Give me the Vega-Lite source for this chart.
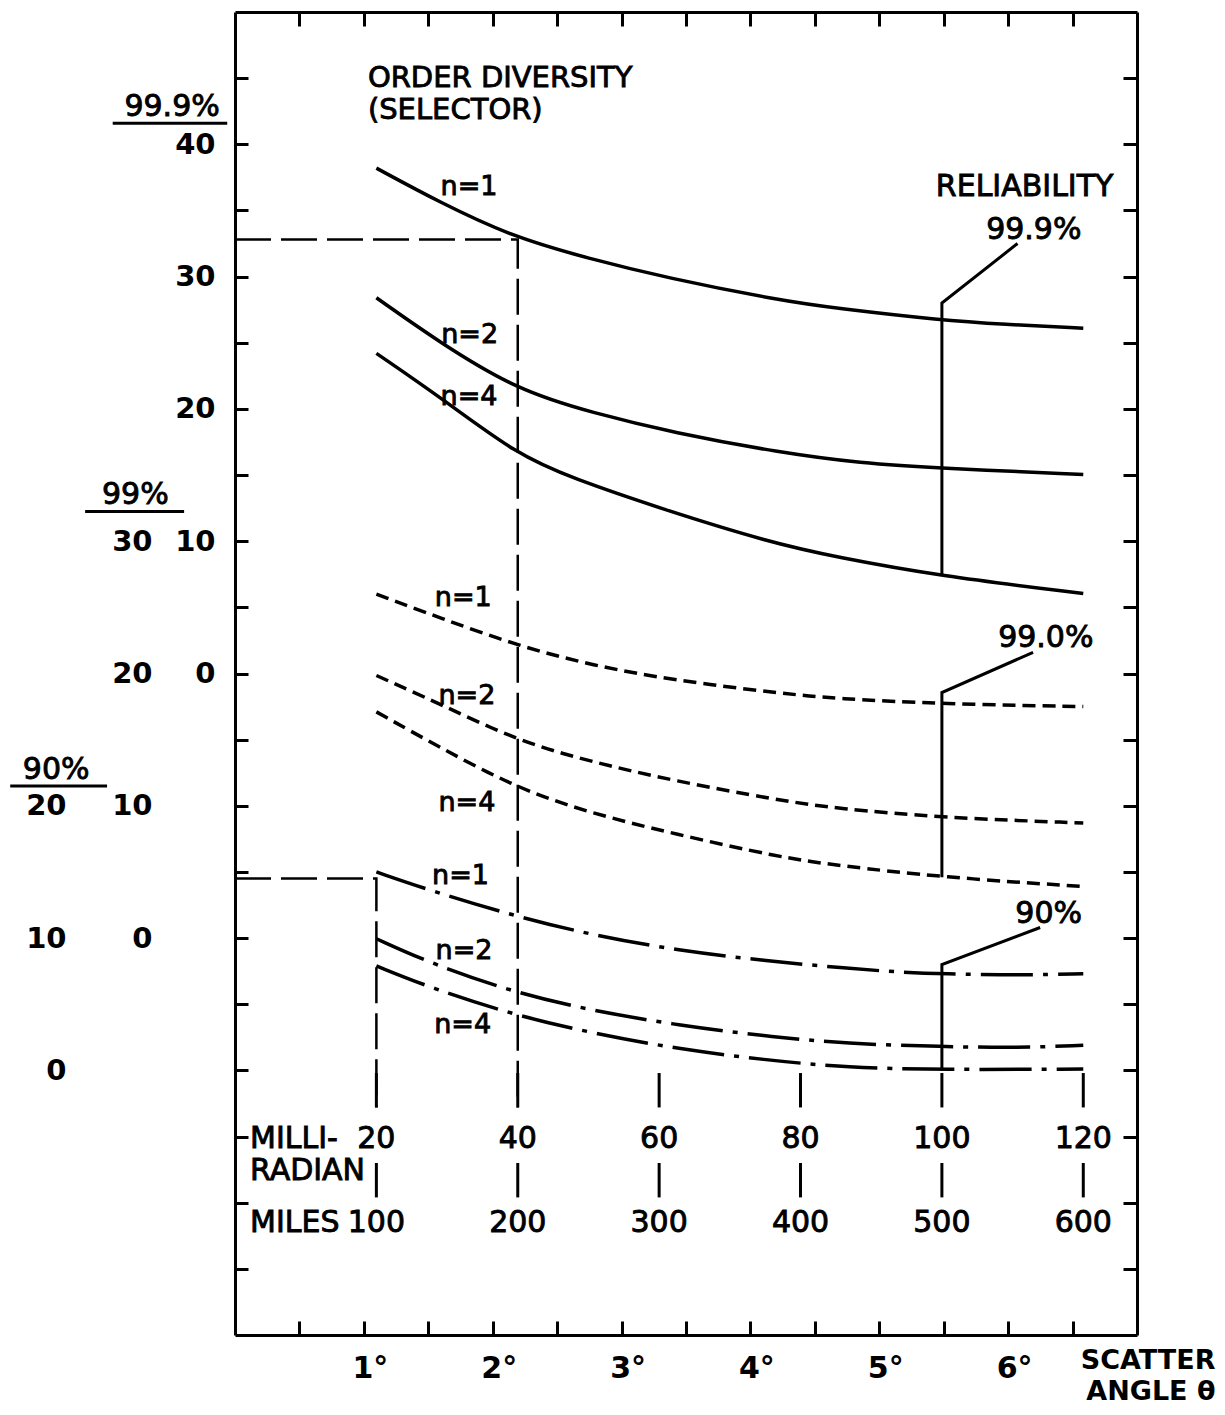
{
  "$schema": "https://vega.github.io/schema/vega-lite/v6.json",
  "width": 902,
  "height": 1323,
  "autosize": {"type": "none"},
  "padding": {"left": 235, "top": 12, "right": 88, "bottom": 80},
  "background": "white",
  "config": {
    "view": {"stroke": null},
    "font": "DejaVu Sans",
    "axis": {"labelFont": "DejaVu Sans", "titleFont": "DejaVu Sans", "labelColor": "black", "titleColor": "black", "domainColor": "black", "tickColor": "black", "grid": false, "labelFontWeight": "bold"},
    "text": {"color": "black", "stroke": "black", "strokeWidth": 0.9, "align": "center", "baseline": "middle"}
  },
  "datasets": {
    "curves": [
      {"reliability": "99.9%", "n": 1, "mrad": 20, "value": 38.2},
      {"reliability": "99.9%", "n": 1, "mrad": 29, "value": 35.6},
      {"reliability": "99.9%", "n": 1, "mrad": 39.3, "value": 33.0},
      {"reliability": "99.9%", "n": 1, "mrad": 49.8, "value": 31.4},
      {"reliability": "99.9%", "n": 1, "mrad": 61.1, "value": 29.9},
      {"reliability": "99.9%", "n": 1, "mrad": 77.1, "value": 28.2},
      {"reliability": "99.9%", "n": 1, "mrad": 85.1, "value": 27.6},
      {"reliability": "99.9%", "n": 1, "mrad": 100, "value": 26.7},
      {"reliability": "99.9%", "n": 1, "mrad": 108.6, "value": 26.4},
      {"reliability": "99.9%", "n": 1, "mrad": 120, "value": 26.1},
      {"reliability": "99.9%", "n": 2, "mrad": 20, "value": 28.4},
      {"reliability": "99.9%", "n": 2, "mrad": 29, "value": 25.0},
      {"reliability": "99.9%", "n": 2, "mrad": 40, "value": 21.4},
      {"reliability": "99.9%", "n": 2, "mrad": 50.6, "value": 19.7},
      {"reliability": "99.9%", "n": 2, "mrad": 62, "value": 18.2},
      {"reliability": "99.9%", "n": 2, "mrad": 77.1, "value": 16.7},
      {"reliability": "99.9%", "n": 2, "mrad": 88.4, "value": 15.9},
      {"reliability": "99.9%", "n": 2, "mrad": 100, "value": 15.5},
      {"reliability": "99.9%", "n": 2, "mrad": 120, "value": 15.05},
      {"reliability": "99.9%", "n": 4, "mrad": 20, "value": 24.2},
      {"reliability": "99.9%", "n": 4, "mrad": 29, "value": 20.9},
      {"reliability": "99.9%", "n": 4, "mrad": 40, "value": 16.5},
      {"reliability": "99.9%", "n": 4, "mrad": 47.8, "value": 14.75},
      {"reliability": "99.9%", "n": 4, "mrad": 60, "value": 12.5},
      {"reliability": "99.9%", "n": 4, "mrad": 75.7, "value": 9.9},
      {"reliability": "99.9%", "n": 4, "mrad": 85.1, "value": 8.8},
      {"reliability": "99.9%", "n": 4, "mrad": 99.3, "value": 7.4},
      {"reliability": "99.9%", "n": 4, "mrad": 120, "value": 6.05},
      {"reliability": "99%", "n": 1, "mrad": 20, "value": 26.0},
      {"reliability": "99%", "n": 1, "mrad": 29, "value": 24.2},
      {"reliability": "99%", "n": 1, "mrad": 40, "value": 22.1},
      {"reliability": "99%", "n": 1, "mrad": 50.6, "value": 20.6},
      {"reliability": "99%", "n": 1, "mrad": 62, "value": 19.5},
      {"reliability": "99%", "n": 1, "mrad": 77.1, "value": 18.5},
      {"reliability": "99%", "n": 1, "mrad": 85.1, "value": 18.1},
      {"reliability": "99%", "n": 1, "mrad": 100, "value": 17.7},
      {"reliability": "99%", "n": 1, "mrad": 120, "value": 17.5},
      {"reliability": "99%", "n": 2, "mrad": 20, "value": 19.85},
      {"reliability": "99%", "n": 2, "mrad": 29, "value": 17.7},
      {"reliability": "99%", "n": 2, "mrad": 40, "value": 14.9},
      {"reliability": "99%", "n": 2, "mrad": 50.6, "value": 13.3},
      {"reliability": "99%", "n": 2, "mrad": 62, "value": 11.9},
      {"reliability": "99%", "n": 2, "mrad": 77.1, "value": 10.4},
      {"reliability": "99%", "n": 2, "mrad": 85.1, "value": 9.8},
      {"reliability": "99%", "n": 2, "mrad": 100, "value": 9.1},
      {"reliability": "99%", "n": 2, "mrad": 120, "value": 8.7},
      {"reliability": "99%", "n": 4, "mrad": 20, "value": 17.1},
      {"reliability": "99%", "n": 4, "mrad": 29, "value": 14.4},
      {"reliability": "99%", "n": 4, "mrad": 40, "value": 11.3},
      {"reliability": "99%", "n": 4, "mrad": 50.6, "value": 9.4},
      {"reliability": "99%", "n": 4, "mrad": 62, "value": 7.9},
      {"reliability": "99%", "n": 4, "mrad": 77.1, "value": 6.1},
      {"reliability": "99%", "n": 4, "mrad": 85.1, "value": 5.5},
      {"reliability": "99%", "n": 4, "mrad": 100, "value": 4.6},
      {"reliability": "99%", "n": 4, "mrad": 120, "value": 3.9},
      {"reliability": "90%", "n": 1, "mrad": 20, "value": 15.0},
      {"reliability": "90%", "n": 1, "mrad": 27.6, "value": 13.6},
      {"reliability": "90%", "n": 1, "mrad": 40, "value": 11.6},
      {"reliability": "90%", "n": 1, "mrad": 50.8, "value": 10.2},
      {"reliability": "90%", "n": 1, "mrad": 62.8, "value": 9.05},
      {"reliability": "90%", "n": 1, "mrad": 74.8, "value": 8.3},
      {"reliability": "90%", "n": 1, "mrad": 86.7, "value": 7.7},
      {"reliability": "90%", "n": 1, "mrad": 94.8, "value": 7.4},
      {"reliability": "90%", "n": 1, "mrad": 100, "value": 7.3},
      {"reliability": "90%", "n": 1, "mrad": 110.8, "value": 7.2},
      {"reliability": "90%", "n": 1, "mrad": 120, "value": 7.3},
      {"reliability": "90%", "n": 2, "mrad": 20, "value": 9.95},
      {"reliability": "90%", "n": 2, "mrad": 27.6, "value": 8.1},
      {"reliability": "90%", "n": 2, "mrad": 40, "value": 5.8},
      {"reliability": "90%", "n": 2, "mrad": 50.8, "value": 4.5},
      {"reliability": "90%", "n": 2, "mrad": 62.8, "value": 3.4},
      {"reliability": "90%", "n": 2, "mrad": 74.8, "value": 2.6},
      {"reliability": "90%", "n": 2, "mrad": 86.7, "value": 2.0},
      {"reliability": "90%", "n": 2, "mrad": 100, "value": 1.8},
      {"reliability": "90%", "n": 2, "mrad": 110.8, "value": 1.7},
      {"reliability": "90%", "n": 2, "mrad": 120, "value": 1.9},
      {"reliability": "90%", "n": 4, "mrad": 20, "value": 7.9},
      {"reliability": "90%", "n": 4, "mrad": 27.6, "value": 6.25},
      {"reliability": "90%", "n": 4, "mrad": 40, "value": 4.1},
      {"reliability": "90%", "n": 4, "mrad": 50.8, "value": 2.8},
      {"reliability": "90%", "n": 4, "mrad": 62.8, "value": 1.6},
      {"reliability": "90%", "n": 4, "mrad": 74.8, "value": 0.8},
      {"reliability": "90%", "n": 4, "mrad": 86.7, "value": 0.2},
      {"reliability": "90%", "n": 4, "mrad": 100, "value": 0.05},
      {"reliability": "90%", "n": 4, "mrad": 120, "value": 0.1}
    ],
    "curveLabels": [
      {"reliability": "99.9%", "text": "n=1", "mrad": 33.1, "value": 36.8},
      {"reliability": "99.9%", "text": "n=2", "mrad": 33.2, "value": 25.6},
      {"reliability": "99.9%", "text": "n=4", "mrad": 33.1, "value": 20.9},
      {"reliability": "99%", "text": "n=1", "mrad": 32.3, "value": 25.7},
      {"reliability": "99%", "text": "n=2", "mrad": 32.8, "value": 18.3},
      {"reliability": "99%", "text": "n=4", "mrad": 32.8, "value": 10.2},
      {"reliability": "90%", "text": "n=1", "mrad": 31.9, "value": 14.7},
      {"reliability": "90%", "text": "n=2", "mrad": 32.4, "value": 9.05},
      {"reliability": "90%", "text": "n=4", "mrad": 32.2, "value": 3.4}
    ],
    "leaders": [
      {"reliability": "99.9%", "step": 1, "mrad": 110.7, "value": 32.5},
      {"reliability": "99.9%", "step": 2, "mrad": 100, "value": 28.0},
      {"reliability": "99.9%", "step": 3, "mrad": 100, "value": 7.4},
      {"reliability": "99%", "step": 1, "mrad": 112.9, "value": 21.6},
      {"reliability": "99%", "step": 2, "mrad": 100, "value": 18.56},
      {"reliability": "99%", "step": 3, "mrad": 100, "value": 4.6},
      {"reliability": "90%", "step": 1, "mrad": 113.9, "value": 10.8},
      {"reliability": "90%", "step": 2, "mrad": 100, "value": 8.0},
      {"reliability": "90%", "step": 3, "mrad": 100, "value": 0}
    ],
    "guides": [
      {"reliability": "99.9%", "step": 1, "mrad": 0, "value": 32.8},
      {"reliability": "99.9%", "step": 2, "mrad": 40, "value": 32.8},
      {"reliability": "99.9%", "step": 3, "mrad": 40, "value": -32.8},
      {"reliability": "90%", "step": 1, "mrad": 0, "value": 14.5},
      {"reliability": "90%", "step": 2, "mrad": 20, "value": 14.5},
      {"reliability": "90%", "step": 3, "mrad": 20, "value": -2.8}
    ],
    "notes": [
      {"reliability": "99.9%", "text": "RELIABILITY", "mrad": 111.7, "value": 36.8},
      {"reliability": "99.9%", "text": "99.9%", "mrad": 113, "value": 33.5},
      {"reliability": "99%", "text": "99.0%", "mrad": 114.7, "value": 22.7},
      {"reliability": "90%", "text": "90%", "mrad": 115.1, "value": 11.85}
    ],
    "headers": [
      {"reliability": "99.9%", "text": "99.9%", "mrad": -8.9, "value": 42.8, "ulFrom": -17.3, "ulTo": -1.1, "ulValue": 41.6},
      {"reliability": "99%", "text": "99%", "mrad": -14.1, "value": 33.5, "ulFrom": -21.2, "ulTo": -7.2, "ulValue": 32.25},
      {"reliability": "90%", "text": "90%", "mrad": -25.3, "value": 22.7, "ulFrom": -31.8, "ulTo": -18.1, "ulValue": 21.5}
    ],
    "titles": [
      {"text": "ORDER DIVERSITY", "mrad": 18.8, "value": 45.0},
      {"text": "(SELECTOR)", "mrad": 18.8, "value": 42.6}
    ],
    "scaleMarks": [
      {"mrad": 20, "miles": 100},
      {"mrad": 40, "miles": 200},
      {"mrad": 60, "miles": 300},
      {"mrad": 80, "miles": 400},
      {"mrad": 100, "miles": 500},
      {"mrad": 120, "miles": 600}
    ],
    "scaleTitles": [
      {"text": "MILLI-", "value": -35.2},
      {"text": "RADIAN", "value": -37.6},
      {"text": "MILES", "value": -41.5}
    ],
    "degreeRange": [{"deg": 0}, {"deg": 7}]
  },
  "layer": [
    {
      "data": {"name": "curves"},
      "transform": [{"filter": "datum.reliability === '99.9%'"}],
      "mark": {"type": "line", "interpolate": "basis", "strokeWidth": 3.5, "color": "black"},
      "encoding": {
        "x": {"field": "mrad", "type": "quantitative", "scale": {"domain": [0, 127.6], "nice": false, "zero": false}, "axis": null},
        "y": {"field": "value", "type": "quantitative", "scale": {"domain": [-50, 50], "nice": false, "zero": false},
          "axis": {"orient": "left", "values": [-45, -40, -35, -30, -25, -20, -15, -10, -5, 0, 5, 10, 15, 20, 25, 30, 35, 40, 45],
            "labelExpr": "datum.value >= 0 && datum.value % 10 === 0 ? datum.label : ''",
            "tickSize": -13, "tickWidth": 3, "domainWidth": 3, "labelFontSize": 29, "labelPadding": 33,
            "labelAlign": "right", "labelBaseline": "middle", "labelOverlap": false, "labelFlush": false, "title": null}},
        "detail": {"field": "n"}
      }
    },
    {
      "data": {"name": "guides"},
      "transform": [{"filter": "datum.reliability === '99.9%'"}],
      "mark": {"type": "line", "strokeWidth": 2.5, "strokeDash": [36, 10], "color": "black"},
      "encoding": {
        "x": {"field": "mrad", "type": "quantitative", "scale": {"domain": [0, 127.6], "nice": false, "zero": false}, "axis": null},
        "y": {"field": "value", "type": "quantitative", "scale": {"domain": [-50, 50], "nice": false, "zero": false}, "axis": null},
        "order": {"field": "step"}
      }
    },
    {
      "data": {"name": "leaders"},
      "transform": [{"filter": "datum.reliability === '99.9%'"}],
      "mark": {"type": "line", "strokeWidth": 3, "color": "black"},
      "encoding": {
        "x": {"field": "mrad", "type": "quantitative", "scale": {"domain": [0, 127.6], "nice": false, "zero": false}, "axis": null},
        "y": {"field": "value", "type": "quantitative", "scale": {"domain": [-50, 50], "nice": false, "zero": false}, "axis": null},
        "order": {"field": "step"}
      }
    },
    {
      "data": {"name": "curveLabels"},
      "transform": [{"filter": "datum.reliability === '99.9%'"}],
      "mark": {"type": "text", "fontSize": 27},
      "encoding": {
        "x": {"field": "mrad", "type": "quantitative", "scale": {"domain": [0, 127.6], "nice": false, "zero": false}, "axis": null},
        "y": {"field": "value", "type": "quantitative", "scale": {"domain": [-50, 50], "nice": false, "zero": false}, "axis": null},
        "text": {"field": "text"}
      }
    },
    {
      "data": {"name": "notes"},
      "transform": [{"filter": "datum.reliability === '99.9%'"}],
      "mark": {"type": "text", "fontSize": 30},
      "encoding": {
        "x": {"field": "mrad", "type": "quantitative", "scale": {"domain": [0, 127.6], "nice": false, "zero": false}, "axis": null},
        "y": {"field": "value", "type": "quantitative", "scale": {"domain": [-50, 50], "nice": false, "zero": false}, "axis": null},
        "text": {"field": "text"}
      }
    },
    {
      "data": {"name": "titles"},
      "mark": {"type": "text", "fontSize": 29, "align": "left"},
      "encoding": {
        "x": {"field": "mrad", "type": "quantitative", "scale": {"domain": [0, 127.6], "nice": false, "zero": false}, "axis": null},
        "y": {"field": "value", "type": "quantitative", "scale": {"domain": [-50, 50], "nice": false, "zero": false}, "axis": null},
        "text": {"field": "text"}
      }
    },
    {
      "data": {"name": "headers"},
      "transform": [{"filter": "datum.reliability === '99.9%'"}],
      "mark": {"type": "text", "fontSize": 30},
      "encoding": {
        "x": {"field": "mrad", "type": "quantitative", "scale": {"domain": [0, 127.6], "nice": false, "zero": false}, "axis": null},
        "y": {"field": "value", "type": "quantitative", "scale": {"domain": [-50, 50], "nice": false, "zero": false}, "axis": null},
        "text": {"field": "text"}
      }
    },
    {
      "data": {"name": "headers"},
      "transform": [{"filter": "datum.reliability === '99.9%'"}],
      "mark": {"type": "rule", "strokeWidth": 3, "color": "black"},
      "encoding": {
        "x": {"field": "ulFrom", "type": "quantitative", "scale": {"domain": [0, 127.6], "nice": false, "zero": false}, "axis": null},
        "x2": {"field": "ulTo"},
        "y": {"field": "ulValue", "type": "quantitative", "scale": {"domain": [-50, 50], "nice": false, "zero": false}, "axis": null}
      }
    },
    {
      "data": {"name": "scaleTitles"},
      "mark": {"type": "text", "fontSize": 30, "align": "left", "dx": 15},
      "encoding": {
        "x": {"datum": 0, "type": "quantitative", "scale": {"domain": [0, 127.6], "nice": false, "zero": false}, "axis": null},
        "y": {"field": "value", "type": "quantitative", "scale": {"domain": [-50, 50], "nice": false, "zero": false},
          "axis": {"orient": "right", "values": [-45, -40, -35, -30, -25, -20, -15, -10, -5, 0, 5, 10, 15, 20, 25, 30, 35, 40, 45],
            "labels": false, "tickSize": -14, "tickWidth": 3, "domainWidth": 3, "title": null}},
        "text": {"field": "text"}
      }
    },
    {
      "data": {"name": "scaleMarks"},
      "mark": {"type": "rule", "strokeWidth": 3, "color": "black"},
      "encoding": {
        "x": {"field": "mrad", "type": "quantitative", "scale": {"domain": [0, 127.6], "nice": false, "zero": false}, "axis": null},
        "y": {"datum": -30.2, "type": "quantitative", "scale": {"domain": [-50, 50], "nice": false, "zero": false}, "axis": null},
        "y2": {"datum": -32.8}
      }
    },
    {
      "data": {"name": "scaleMarks"},
      "mark": {"type": "rule", "strokeWidth": 3, "color": "black"},
      "encoding": {
        "x": {"field": "mrad", "type": "quantitative", "scale": {"domain": [0, 127.6], "nice": false, "zero": false}, "axis": null},
        "y": {"datum": -37.0, "type": "quantitative", "scale": {"domain": [-50, 50], "nice": false, "zero": false}, "axis": null},
        "y2": {"datum": -39.6}
      }
    },
    {
      "data": {"name": "scaleMarks"},
      "mark": {"type": "text", "fontSize": 30},
      "encoding": {
        "x": {"field": "mrad", "type": "quantitative", "scale": {"domain": [0, 127.6], "nice": false, "zero": false}, "axis": null},
        "y": {"datum": -35.2, "type": "quantitative", "scale": {"domain": [-50, 50], "nice": false, "zero": false}, "axis": null},
        "text": {"field": "mrad", "type": "quantitative", "format": "d"}
      }
    },
    {
      "data": {"name": "scaleMarks"},
      "mark": {"type": "text", "fontSize": 30},
      "encoding": {
        "x": {"field": "mrad", "type": "quantitative", "scale": {"domain": [0, 127.6], "nice": false, "zero": false}, "axis": null},
        "y": {"datum": -41.5, "type": "quantitative", "scale": {"domain": [-50, 50], "nice": false, "zero": false}, "axis": null},
        "text": {"field": "miles", "type": "quantitative", "format": "d"}
      }
    },
    {
      "data": {"name": "curves"},
      "transform": [{"filter": "datum.reliability === '99%'"}],
      "mark": {"type": "line", "interpolate": "basis", "strokeWidth": 3.5, "strokeDash": [13, 7], "color": "black"},
      "encoding": {
        "x": {"field": "mrad", "type": "quantitative", "scale": {"domain": [0, 127.6], "nice": false, "zero": false}, "axis": null},
        "y": {"field": "value", "type": "quantitative", "scale": {"domain": [-30, 70], "nice": false, "zero": false},
          "axis": {"orient": "left", "offset": 70, "values": [0, 10, 20, 30], "domain": false, "ticks": false, "tickSize": 0,
            "labelPadding": 13, "labelFontSize": 29, "labelAlign": "right", "labelBaseline": "middle", "labelOverlap": false, "labelFlush": false, "title": null}},
        "detail": {"field": "n"}
      }
    },
    {
      "data": {"name": "leaders"},
      "transform": [{"filter": "datum.reliability === '99%'"}],
      "mark": {"type": "line", "strokeWidth": 3, "color": "black"},
      "encoding": {
        "x": {"field": "mrad", "type": "quantitative", "scale": {"domain": [0, 127.6], "nice": false, "zero": false}, "axis": null},
        "y": {"field": "value", "type": "quantitative", "scale": {"domain": [-30, 70], "nice": false, "zero": false}, "axis": null},
        "order": {"field": "step"}
      }
    },
    {
      "data": {"name": "curveLabels"},
      "transform": [{"filter": "datum.reliability === '99%'"}],
      "mark": {"type": "text", "fontSize": 27},
      "encoding": {
        "x": {"field": "mrad", "type": "quantitative", "scale": {"domain": [0, 127.6], "nice": false, "zero": false}, "axis": null},
        "y": {"field": "value", "type": "quantitative", "scale": {"domain": [-30, 70], "nice": false, "zero": false}, "axis": null},
        "text": {"field": "text"}
      }
    },
    {
      "data": {"name": "notes"},
      "transform": [{"filter": "datum.reliability === '99%'"}],
      "mark": {"type": "text", "fontSize": 30},
      "encoding": {
        "x": {"field": "mrad", "type": "quantitative", "scale": {"domain": [0, 127.6], "nice": false, "zero": false}, "axis": null},
        "y": {"field": "value", "type": "quantitative", "scale": {"domain": [-30, 70], "nice": false, "zero": false}, "axis": null},
        "text": {"field": "text"}
      }
    },
    {
      "data": {"name": "headers"},
      "transform": [{"filter": "datum.reliability === '99%'"}],
      "mark": {"type": "text", "fontSize": 30},
      "encoding": {
        "x": {"field": "mrad", "type": "quantitative", "scale": {"domain": [0, 127.6], "nice": false, "zero": false}, "axis": null},
        "y": {"field": "value", "type": "quantitative", "scale": {"domain": [-30, 70], "nice": false, "zero": false}, "axis": null},
        "text": {"field": "text"}
      }
    },
    {
      "data": {"name": "headers"},
      "transform": [{"filter": "datum.reliability === '99%'"}],
      "mark": {"type": "rule", "strokeWidth": 3, "color": "black"},
      "encoding": {
        "x": {"field": "ulFrom", "type": "quantitative", "scale": {"domain": [0, 127.6], "nice": false, "zero": false}, "axis": null},
        "x2": {"field": "ulTo"},
        "y": {"field": "ulValue", "type": "quantitative", "scale": {"domain": [-30, 70], "nice": false, "zero": false}, "axis": null}
      }
    },
    {
      "data": {"name": "curves"},
      "transform": [{"filter": "datum.reliability === '90%'"}],
      "mark": {"type": "line", "interpolate": "basis", "strokeWidth": 3.5, "strokeDash": [52, 10, 5, 10], "color": "black"},
      "encoding": {
        "x": {"field": "mrad", "type": "quantitative", "scale": {"domain": [0, 127.6], "nice": false, "zero": false}, "axis": null},
        "y": {"field": "value", "type": "quantitative", "scale": {"domain": [-20, 80], "nice": false, "zero": false},
          "axis": {"orient": "left", "offset": 155, "values": [0, 10, 20], "domain": false, "ticks": false, "tickSize": 0,
            "labelPadding": 14, "labelFontSize": 29, "labelAlign": "right", "labelBaseline": "middle", "labelOverlap": false, "labelFlush": false, "title": null}},
        "detail": {"field": "n"}
      }
    },
    {
      "data": {"name": "guides"},
      "transform": [{"filter": "datum.reliability === '90%'"}],
      "mark": {"type": "line", "strokeWidth": 2.5, "strokeDash": [36, 10], "color": "black"},
      "encoding": {
        "x": {"field": "mrad", "type": "quantitative", "scale": {"domain": [0, 127.6], "nice": false, "zero": false}, "axis": null},
        "y": {"field": "value", "type": "quantitative", "scale": {"domain": [-20, 80], "nice": false, "zero": false}, "axis": null},
        "order": {"field": "step"}
      }
    },
    {
      "data": {"name": "leaders"},
      "transform": [{"filter": "datum.reliability === '90%'"}],
      "mark": {"type": "line", "strokeWidth": 3, "color": "black"},
      "encoding": {
        "x": {"field": "mrad", "type": "quantitative", "scale": {"domain": [0, 127.6], "nice": false, "zero": false}, "axis": null},
        "y": {"field": "value", "type": "quantitative", "scale": {"domain": [-20, 80], "nice": false, "zero": false}, "axis": null},
        "order": {"field": "step"}
      }
    },
    {
      "data": {"name": "curveLabels"},
      "transform": [{"filter": "datum.reliability === '90%'"}],
      "mark": {"type": "text", "fontSize": 27},
      "encoding": {
        "x": {"field": "mrad", "type": "quantitative", "scale": {"domain": [0, 127.6], "nice": false, "zero": false}, "axis": null},
        "y": {"field": "value", "type": "quantitative", "scale": {"domain": [-20, 80], "nice": false, "zero": false}, "axis": null},
        "text": {"field": "text"}
      }
    },
    {
      "data": {"name": "notes"},
      "transform": [{"filter": "datum.reliability === '90%'"}],
      "mark": {"type": "text", "fontSize": 30},
      "encoding": {
        "x": {"field": "mrad", "type": "quantitative", "scale": {"domain": [0, 127.6], "nice": false, "zero": false}, "axis": null},
        "y": {"field": "value", "type": "quantitative", "scale": {"domain": [-20, 80], "nice": false, "zero": false}, "axis": null},
        "text": {"field": "text"}
      }
    },
    {
      "data": {"name": "headers"},
      "transform": [{"filter": "datum.reliability === '90%'"}],
      "mark": {"type": "text", "fontSize": 30},
      "encoding": {
        "x": {"field": "mrad", "type": "quantitative", "scale": {"domain": [0, 127.6], "nice": false, "zero": false}, "axis": null},
        "y": {"field": "value", "type": "quantitative", "scale": {"domain": [-20, 80], "nice": false, "zero": false}, "axis": null},
        "text": {"field": "text"}
      }
    },
    {
      "data": {"name": "headers"},
      "transform": [{"filter": "datum.reliability === '90%'"}],
      "mark": {"type": "rule", "strokeWidth": 3, "color": "black"},
      "encoding": {
        "x": {"field": "ulFrom", "type": "quantitative", "scale": {"domain": [0, 127.6], "nice": false, "zero": false}, "axis": null},
        "x2": {"field": "ulTo"},
        "y": {"field": "ulValue", "type": "quantitative", "scale": {"domain": [-20, 80], "nice": false, "zero": false}, "axis": null}
      }
    },
    {
      "data": {"name": "degreeRange"},
      "mark": {"type": "point", "opacity": 0},
      "encoding": {
        "x": {"field": "deg", "type": "quantitative", "scale": {"domain": [0, 7], "nice": false, "zero": false},
          "axis": {"orient": "bottom", "values": [0.5, 1, 1.5, 2, 2.5, 3, 3.5, 4, 4.5, 5, 5.5, 6, 6.5],
            "labelExpr": "datum.value % 1 === 0 ? datum.value + '°' : ''",
            "tickSize": -14, "tickWidth": 3, "domainWidth": 3, "labelFontSize": 30, "labelPadding": 32, "labelOffset": 6,
            "labelBaseline": "top", "labelOverlap": false, "labelFlush": false,
            "title": ["SCATTER", "ANGLE θ"], "titleFontSize": 27, "titleFontWeight": "bold", "titleAlign": "right",
            "titleX": 980, "titleY": 12, "titleBaseline": "top", "titleLineHeight": 31}}
      }
    },
    {
      "data": {"name": "degreeRange"},
      "mark": {"type": "point", "opacity": 0},
      "encoding": {
        "x": {"field": "deg", "type": "quantitative", "scale": {"domain": [0, 7], "nice": false, "zero": false},
          "axis": {"orient": "top", "values": [0.5, 1, 1.5, 2, 2.5, 3, 3.5, 4, 4.5, 5, 5.5, 6, 6.5],
            "labels": false, "tickSize": -14, "tickWidth": 3, "domainWidth": 3, "title": null}}
      }
    }
  ],
  "resolve": {
    "scale": {"x": "independent", "y": "independent"},
    "axis": {"x": "independent", "y": "independent"}
  }
}
